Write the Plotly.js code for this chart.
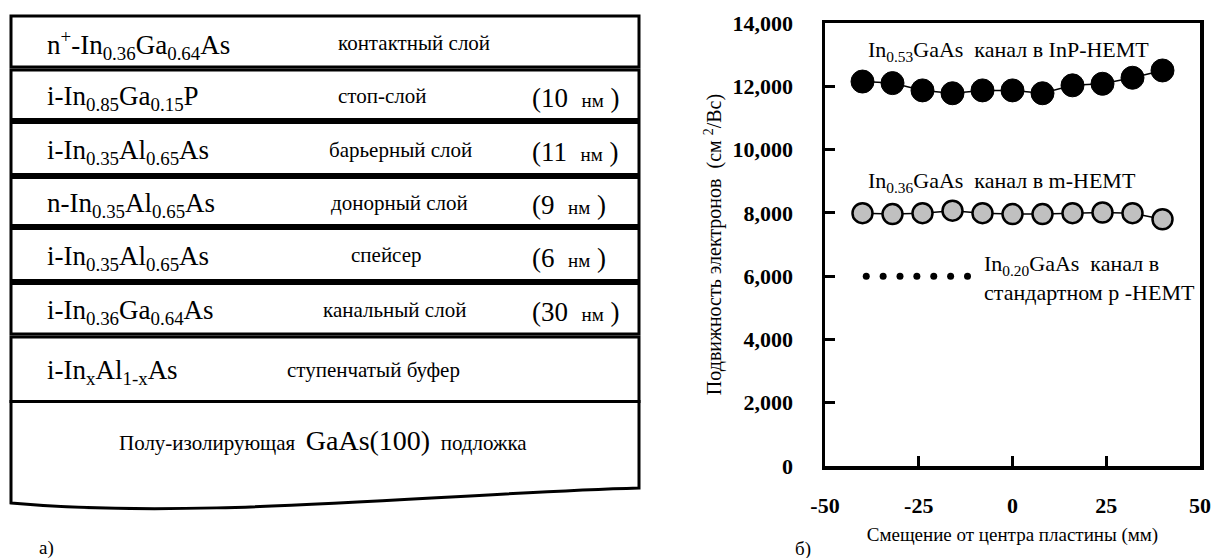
<!DOCTYPE html>
<html>
<head>
<meta charset="utf-8">
<script src="https://cdn.plot.ly/plotly-3.0.1.min.js"></script>
<style>
  html, body { margin: 0; padding: 0; background: #ffffff; }
  #chart { width: 1215px; height: 558px; }
</style>
</head>
<body>
<div id="chart"></div>
<script>
// ---- а) m-HEMT heterostructure, layers from top to bottom ----
const layerFormulas = [
  'n<sup>+</sup>-In<sub>0.36</sub>Ga<sub>0.64</sub>As',
  'i-In<sub>0.85</sub>Ga<sub>0.15</sub>P',
  'i-In<sub>0.35</sub>Al<sub>0.65</sub>As',
  'n-In<sub>0.35</sub>Al<sub>0.65</sub>As',
  'i-In<sub>0.35</sub>Al<sub>0.65</sub>As',
  'i-In<sub>0.36</sub>Ga<sub>0.64</sub>As',
  'i-In<sub>x</sub>Al<sub>1-x</sub>As'
];
const layerNames = [
  'контактный слой', 'стоп-слой', 'барьерный слой', 'донорный слой',
  'спейсер', 'канальный слой', 'ступенчатый буфер'
];
const layerThicknessNm = [null, 10, 11, 9, 6, 30, null];
const substrateParts = ['Полу-изолирующая', 'GaAs(100)', 'подложка'];

// ---- б) electron mobility vs. offset from wafer centre ----
const offsetMm = [-40, -32, -24, -16, -8, 0, 8, 16, 24, 32, 40];
const mobilityInP = [12150, 12100, 11870, 11780, 11870, 11870, 11780, 12030, 12080, 12270, 12500];
const mobilityMHemt = [7990, 7960, 7990, 8070, 7990, 7960, 7960, 7990, 8010, 7990, 7800];
const pHemtOffsetMm = [-39, -34.5, -30, -25.5, -21, -16.5, -12];
const pHemtMobility = [6000, 6000, 6000, 6000, 6000, 6000, 6000];
const xTickVals = [-50, -25, 0, 25, 50];
const xTickText = ['-50', '-25', '0', '25', '50'];
const yTickVals = [0, 2000, 4000, 6000, 8000, 10000, 12000, 14000];

// ---- page geometry (pixels) ----
const W = 1215, H = 558;
const fx = v => v / W;
const fy = v => 1 - v / H;
const SERIF = 'Liberation Serif';

// layer borders of the stack drawing
const stackLeft = 11, stackRight = 639;
const rowEdges = [16, 68.5, 121, 176, 227, 282, 335.5, 401.5];
const nameCenters = [414, 382, 400, 399, 386, 394, 373];

const shapes = [];
const annotations = [];

layerFormulas.forEach((formula, i) => {
  const top = rowEdges[i] + (i === 0 ? 0 : 1.5);
  const bottom = rowEdges[i + 1] - (i === layerFormulas.length - 1 ? 0 : 1.5);
  const mid = (rowEdges[i] + rowEdges[i + 1]) / 2 + 3;
  shapes.push({
    type: 'rect', xref: 'paper', yref: 'paper',
    x0: fx(stackLeft), x1: fx(stackRight), y0: fy(top), y1: fy(bottom),
    line: { color: '#000', width: 3 }, fillcolor: 'rgba(0,0,0,0)', layer: 'above'
  });
  annotations.push({
    xref: 'paper', yref: 'paper', x: fx(45), y: fy(mid),
    xanchor: 'left', yanchor: 'middle', showarrow: false,
    text: formula, font: { family: SERIF, size: 27, color: '#000' }
  });
  annotations.push({
    xref: 'paper', yref: 'paper', x: fx(nameCenters[i]), y: fy(mid - 2),
    xanchor: 'center', yanchor: 'middle', showarrow: false,
    text: layerNames[i], font: { family: SERIF, size: 21, color: '#000' }
  });
  if (layerThicknessNm[i] !== null) {
    annotations.push({
      xref: 'paper', yref: 'paper', x: fx(530), y: fy(mid),
      xanchor: 'left', yanchor: 'middle', showarrow: false,
      text: '(' + layerThicknessNm[i] + '\u00a0 <span style="font-size:19px">нм</span>\u00a0)',
      font: { family: SERIF, size: 27, color: '#000' }
    });
  }
});

// substrate with a torn lower edge
const subTop = rowEdges[rowEdges.length - 1];
shapes.push({
  type: 'path', xref: 'paper', yref: 'paper',
  path: 'M ' + fx(stackLeft) + ' ' + fy(subTop) +
        ' L ' + fx(stackRight) + ' ' + fy(subTop) +
        ' L ' + fx(stackRight) + ' ' + fy(488) +
        ' C ' + fx(430) + ' ' + fy(494) + ', ' + fx(200) + ' ' + fy(520) + ', ' + fx(stackLeft) + ' ' + fy(503) +
        ' Z',
  line: { color: '#000', width: 3 }, fillcolor: 'rgba(0,0,0,0)', layer: 'above'
});
annotations.push({
  xref: 'paper', yref: 'paper', x: fx(323), y: fy(440),
  xanchor: 'center', yanchor: 'middle', showarrow: false,
  text: substrateParts[0] + '\u00a0 <span style="font-size:28px">' + substrateParts[1] + '</span>\u00a0 ' + substrateParts[2],
  font: { family: SERIF, size: 21, color: '#000' }
});

// panel letters
annotations.push({
  xref: 'paper', yref: 'paper', x: fx(37), y: fy(548),
  xanchor: 'left', yanchor: 'middle', showarrow: false,
  text: 'а)', font: { family: SERIF, size: 19, color: '#000' }
});
annotations.push({
  xref: 'paper', yref: 'paper', x: fx(793), y: fy(549),
  xanchor: 'left', yanchor: 'middle', showarrow: false,
  text: 'б)', font: { family: SERIF, size: 19, color: '#000' }
});

// series labels inside the mobility plot
const seriesFont = { family: SERIF, size: 22, color: '#000' };
annotations.push({
  xref: 'x', yref: 'y', x: -39.2, y: 13120, xanchor: 'left', yanchor: 'middle', showarrow: false,
  text: 'In<sub>0.53</sub>GaAs\u00a0 канал в InP-HEMT', font: seriesFont
});
annotations.push({
  xref: 'x', yref: 'y', x: -39.2, y: 8980, xanchor: 'left', yanchor: 'middle', showarrow: false,
  text: 'In<sub>0.36</sub>GaAs\u00a0 канал в m-HEMT', font: seriesFont
});
annotations.push({
  xref: 'x', yref: 'y', x: -8.2, y: 5950, xanchor: 'left', yanchor: 'middle', align: 'left', showarrow: false,
  text: 'In<sub>0.20</sub>GaAs\u00a0 канал в<br>стандартном p -HEMT', font: seriesFont
});

const traces = [
  {
    x: offsetMm, y: mobilityInP, type: 'scatter', mode: 'lines+markers',
    line: { color: '#000', width: 1.5 },
    marker: { size: 23, color: '#000', line: { color: '#000', width: 1 } },
    name: 'In0.53GaAs InP-HEMT'
  },
  {
    x: offsetMm, y: mobilityMHemt, type: 'scatter', mode: 'lines+markers',
    line: { color: '#000', width: 1.5 },
    marker: { size: 20, color: '#c0c0c0', line: { color: '#000', width: 2.5 } },
    name: 'In0.36GaAs m-HEMT'
  },
  {
    x: pHemtOffsetMm, y: pHemtMobility, type: 'scatter', mode: 'markers',
    marker: { size: 7, color: '#000' },
    name: 'In0.20GaAs p-HEMT'
  }
];

const axisCommon = {
  showline: true, linecolor: '#000', linewidth: 3.5, mirror: true,
  ticks: 'inside', ticklen: 10, tickwidth: 3, tickcolor: '#000',
  showgrid: false, zeroline: false, fixedrange: true,
  tickfont: { family: SERIF, size: 22, weight: 'bold', color: '#000' }
};

const layout = {
  width: W, height: H,
  margin: { l: 0, r: 0, t: 0, b: 0 },
  paper_bgcolor: '#fff', plot_bgcolor: 'rgba(0,0,0,0)',
  showlegend: false,
  font: { family: SERIF, color: '#000' },
  separators: '.,',
  xaxis: Object.assign({}, axisCommon, {
    domain: [825 / W, 1200 / W],
    range: [-50, 50],
    tickmode: 'array', tickvals: xTickVals, ticktext: xTickText,
    ticklabelstandoff: 17,
    title: { text: 'Смещение от центра пластины (мм)', font: { family: SERIF, size: 19, color: '#000' }, standoff: 12 }
  }),
  yaxis: Object.assign({}, axisCommon, {
    domain: [(H - 466) / H, (H - 23) / H],
    range: [0, 14000],
    tickmode: 'array', tickvals: yTickVals, tickformat: ',d',
    ticklabelstandoff: 24,
    title: { text: 'Подвижность электронов\u00a0 (см <sup>2</sup>/Вс)', font: { family: SERIF, size: 20, color: '#000' }, standoff: 6 }
  }),
  shapes: shapes,
  annotations: annotations
};

Plotly.newPlot('chart', traces, layout, { displayModeBar: false, staticPlot: true });
</script>
</body>
</html>
